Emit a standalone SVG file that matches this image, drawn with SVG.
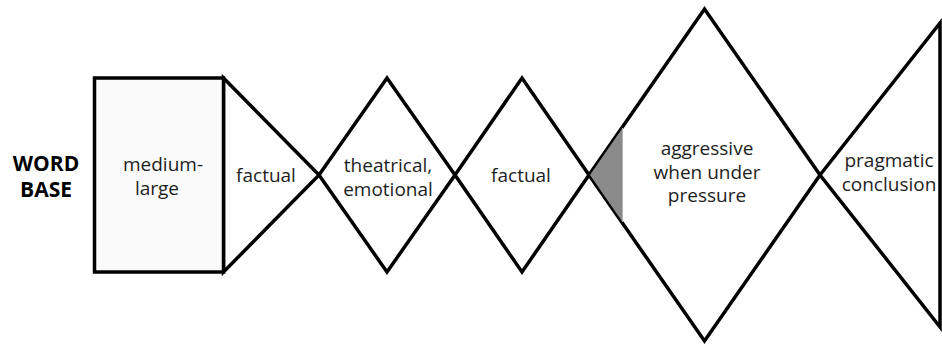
<svg xmlns="http://www.w3.org/2000/svg" width="942" height="345" viewBox="0 0 942 345">
<style>
.shape{fill:#ffffff;stroke:#000000;stroke-width:3.5;stroke-linejoin:miter}
.box{fill:#fafafa}
.lbl{font-family:"Open Sans","Noto Sans","DejaVu Sans",sans-serif;font-size:19px;fill:#1e1e1e;text-anchor:middle}
.title{font-family:"Open Sans","Noto Sans","DejaVu Sans",sans-serif;font-size:21px;font-weight:bold;fill:#000000;text-anchor:middle}
</style>
<rect width="942" height="345" fill="#ffffff"/>
<g id="word-base-label">
<text class="title" x="46" y="171">WORD</text>
<text class="title" x="46" y="197">BASE</text>
</g>
<g id="node-aggressive">
<polygon class="shape" points="589,175 704.5,9 820,175 704.5,341"/>
</g>
<g id="node-pragmatic">
<polygon class="shape" points="820,175 940,23 940,327"/>
</g>
<g id="node-factual-2">
<polygon class="shape" points="455,175 522,78 589,175 522,272"/>
</g>
<g id="node-theatrical">
<polygon class="shape" points="319,175 387,78 455,175 387,272"/>
</g>
<g id="node-factual-1">
<polygon class="shape" points="223.5,78 319,175 223.5,272"/>
</g>
<g id="node-medium-large">
<rect class="shape box" x="94.5" y="78" width="129" height="194"/>
</g>
<g id="shade">
<polygon points="590,175 622.5,128 622.5,222" fill="#8a8a8a"/>
<line x1="622.5" y1="128" x2="622.5" y2="222" stroke="#b4b4b4" stroke-width="1"/>
</g>
<g id="connectors"/>
<g id="labels">
<text class="lbl" x="163" y="171">medium-</text>
<text class="lbl" x="157" y="195">large</text>
<text class="lbl" x="266" y="182">factual</text>
<text class="lbl" x="388" y="172">theatrical,</text>
<text class="lbl" x="388" y="196">emotional</text>
<text class="lbl" x="521" y="182">factual</text>
<text class="lbl" x="707" y="155">aggressive</text>
<text class="lbl" x="707" y="178.5">when under</text>
<text class="lbl" x="707" y="202">pressure</text>
<text class="lbl" x="889" y="167">pragmatic</text>
<text class="lbl" x="889" y="191">conclusion</text>
</g>
</svg>
